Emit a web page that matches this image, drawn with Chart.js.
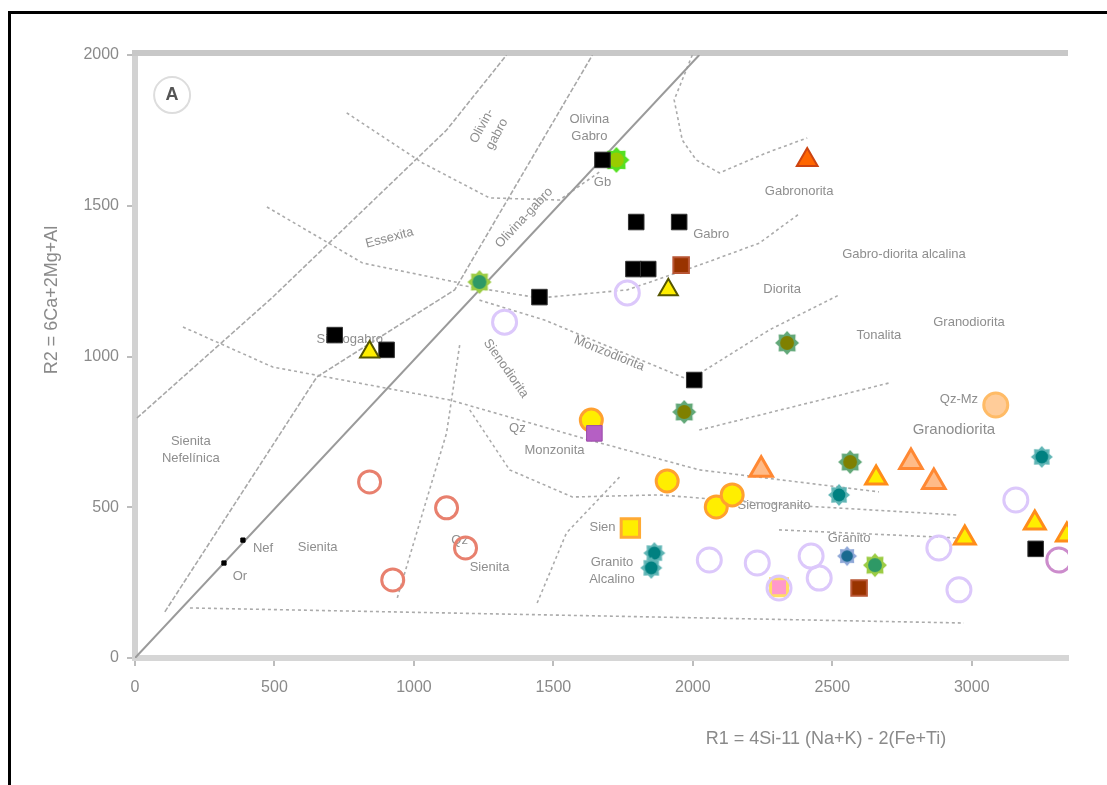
<!DOCTYPE html>
<html>
<head>
<meta charset="utf-8">
<script src="https://cdn.jsdelivr.net/npm/chart.js@4.4.0/dist/chart.umd.min.js"></script>
<style>
  html, body { margin: 0; padding: 0; background: #fff; }
  #frame { position: absolute; left: 8px; top: 11px; width: 1099px; height: 774px;
           border-top: 3px solid #000; border-left: 3px solid #000; }
  #wrap { position: absolute; left: 0; top: 0; width: 1107px; height: 785px; }
</style>
</head>
<body>
<div id="frame"></div>
<div id="wrap"><canvas id="chart" width="1107" height="785"></canvas></div>
<script>
// --- Datos (R1, R2) ---
const xTicks = [0, 500, 1000, 1500, 2000, 2500, 3000];
const yTicks = [0, 500, 1000, 1500, 2000];

const blackSqX = [1676, 1797, 1951, 1787, 1840, 1450, 716, 902, 2005, 3229];
const blackSqY = [1652, 1446, 1446, 1290, 1290, 1197, 1071, 1022, 922, 362];
const mineralX = [387, 319];
const mineralY = [391, 315];
const limeStarX = [1726];
const limeStarY = [1652];
const greenStarX = [1235, 2653];
const greenStarY = [1247, 308];
const oliveStarX = [2338, 1969, 2564];
const oliveStarY = [1045, 816, 650];
const tealStarX = [3251, 2524, 1862, 1851];
const tealStarY = [667, 541, 348, 299];
const blueStarX = [2553];
const blueStarY = [338];
const redTriX = [2410];
const redTriY = [1652];
const salmonTriX = [2245, 2782, 2864];
const salmonTriY = [624, 650, 584];
const yellowTriX = [2657, 2975, 3226, 3341];
const yellowTriY = [597, 398, 448, 408];
const oliveTriX = [1912, 841];
const oliveTriY = [1221, 1015];
const yellowDotX = [1636, 1908, 2084, 2141];
const yellowDotY = [789, 587, 501, 541];
const yellowSqX = [1776];
const yellowSqY = [431];
const purpleSqX = [1647];
const purpleSqY = [745];
const pinkSqX = [2309];
const pinkSqY = [235];
const peachDotX = [3086];
const peachDotY = [839];
const brownSqX = [1958, 2596];
const brownSqY = [1303, 232];
const redRingX = [841, 1117, 1185, 924];
const redRingY = [584, 498, 365, 259];
const lilacRingX = [1325, 1765, 2059, 2231, 2424, 2453, 2882, 2954, 3158, 2309];
const lilacRingY = [1114, 1211, 325, 315, 338, 265, 365, 226, 524, 232];
const mauveRingX = [3312];
const mauveRingY = [325];

// límites de campos
const mainDiagonal = [[0, 0], [2023, 2000]];
const diagonalB = [[107, 153], [652, 932], [1146, 1221], [1640, 2000]];
const diagonalC = [[7, 796], [494, 1197], [1117, 1751], [1332, 2000]];
const fieldLines = [
  [[759, 1808], [1031, 1642], [1271, 1526], [1522, 1519], [1665, 1612]],
  [[473, 1496], [816, 1310], [1164, 1244]],
  [[172, 1098], [494, 965], [1128, 856], [1629, 723]],
  [[1164, 1237], [1450, 1194], [1765, 1221], [2023, 1303], [2238, 1376], [2381, 1473]],
  [[1998, 2000], [1933, 1851], [1962, 1718], [2012, 1652], [2095, 1609], [2263, 1675], [2410, 1725]],
  [[1235, 1187], [1468, 1121], [1987, 922]],
  [[1987, 922], [2274, 1088], [2524, 1204]],
  [[2023, 756], [2703, 912]],
  [[1200, 823], [1343, 624], [1568, 534], [1880, 541], [2345, 507], [2954, 474]],
  [[1629, 723], [2023, 624], [2667, 551]],
  [[2309, 425], [2954, 398]],
  [[1164, 1038], [1117, 746], [1045, 524], [938, 192]],
  [[1737, 600], [1547, 415], [1439, 176]],
  [[197, 166], [2972, 116]]
];

const fieldLabels = [
  { text: 'Olivin-\ngabro', x: 1271, y: 1751, rot: -62 },
  { text: 'Olivina\nGabro', x: 1629, y: 1758, rot: 0 },
  { text: 'Gb', x: 1676, y: 1579, rot: 0 },
  { text: 'Gabronorita', x: 2381, y: 1546, rot: 0 },
  { text: 'Gabro', x: 2066, y: 1405, rot: 0 },
  { text: 'Essexita', x: 913, y: 1393, rot: -15 },
  { text: 'Gabro-diorita alcalina', x: 2757, y: 1337, rot: 0 },
  { text: 'Diorita', x: 2320, y: 1221, rot: 0 },
  { text: 'Tonalita', x: 2667, y: 1071, rot: 0 },
  { text: 'Granodiorita', x: 2990, y: 1114, rot: 0 },
  { text: 'Sienogabro', x: 770, y: 1055, rot: 0 },
  { text: 'Olivina-gabro', x: 1395, y: 1460, rot: -47 },
  { text: 'Monzodiorita', x: 1700, y: 1010, rot: 22 },
  { text: 'Sienodiorita', x: 1330, y: 960, rot: 55 },
  { text: 'Qz', x: 1371, y: 763, rot: 0 },
  { text: 'Monzonita', x: 1504, y: 690, rot: 0 },
  { text: 'Sienita\nNefelínica', x: 200, y: 690, rot: 0 },
  { text: 'Sienita', x: 655, y: 368, rot: 0 },
  { text: 'Qz', x: 1164, y: 391, rot: 0 },
  { text: 'Sienita', x: 1271, y: 302, rot: 0 },
  { text: 'Sien', x: 1676, y: 434, rot: 0 },
  { text: 'Granito\nAlcalino', x: 1710, y: 288, rot: 0 },
  { text: 'Sienogranito', x: 2291, y: 507, rot: 0 },
  { text: 'Granito', x: 2560, y: 395, rot: 0 },
  { text: 'Qz-Mz', x: 2954, y: 856, rot: 0 },
  { text: 'Granodiorita', x: 2936, y: 756, rot: 0, size: 15 },
  { text: 'Nef', x: 459, y: 365, rot: 0 },
  { text: 'Or', x: 376, y: 269, rot: 0 }
];

const pts = (xs, ys) => xs.map((v, i) => ({ x: v, y: ys[i] }));
const pairs = arr => arr.map(p => ({ x: p[0], y: p[1] }));

function starMarker(fill, edge, r) {
  const c = document.createElement('canvas');
  const s = Math.ceil(r * 2 + 4);
  c.width = s; c.height = s;
  const g = c.getContext('2d');
  g.translate(s / 2, s / 2);
  g.beginPath();
  for (let i = 0; i < 16; i++) {
    const a = i * Math.PI / 8 - Math.PI / 2;
    const rr = i % 2 === 0 ? r : r * 0.74;
    g.lineTo(Math.cos(a) * rr, Math.sin(a) * rr);
  }
  g.closePath();
  g.fillStyle = edge;
  g.fill();
  g.beginPath();
  g.arc(0, 0, r * 0.58, 0, Math.PI * 2);
  g.fillStyle = fill;
  g.fill();
  return c;
}

function marks(data, style, fill, edge, radius, width) {
  return {
    data: data,
    pointStyle: style,
    backgroundColor: fill,
    borderColor: edge,
    pointRadius: radius,
    pointBorderWidth: width,
    order: 1
  };
}

function boundary(data, color, width, dash) {
  return {
    data: data,
    showLine: true,
    pointRadius: 0,
    borderColor: color,
    borderWidth: width,
    borderDash: dash,
    fill: false,
    order: 10
  };
}

const datasets = [
  boundary(pairs(mainDiagonal), '#9a9a9a', 2, []),
  boundary(pairs(diagonalB), '#a8a8a8', 1.6, [5, 2]),
  boundary(pairs(diagonalC), '#a8a8a8', 1.6, [5, 2])
];
fieldLines.forEach(line => datasets.push(boundary(pairs(line), '#ababab', 1.6, [3, 3])));

datasets.push(
  marks(pts(redRingX, redRingY), 'circle', 'rgba(255,255,255,0)', '#e8806e', 11, 3),
  marks(pts(lilacRingX, lilacRingY), 'circle', 'rgba(255,255,255,0)', '#dcc8fb', 12, 3),
  marks(pts(mauveRingX, mauveRingY), 'circle', 'rgba(255,255,255,0)', '#cc8ccc', 12, 3),
  marks(pts(purpleSqX, purpleSqY), 'rect', '#b55fc4', '#9a4aa8', 11, 1),
  marks(pts(pinkSqX, pinkSqY), 'rect', '#ff99cc', '#ffdd66', 12, 3),
  marks(pts(yellowDotX, yellowDotY), 'circle', '#ffee00', '#ffa030', 11, 3),
  marks(pts(yellowSqX, yellowSqY), 'rect', '#ffee00', '#ffaa33', 13, 3),
  marks(pts(peachDotX, peachDotY), 'circle', '#ffcc99', '#ffbb66', 12, 3),
  marks(pts(salmonTriX, salmonTriY), 'triangle', '#ffbb88', '#ff8833', 13, 3),
  marks(pts(yellowTriX, yellowTriY), 'triangle', '#ffee00', '#ff8c1a', 12, 3),
  marks(pts(oliveTriX, oliveTriY), 'triangle', '#ffee00', '#555500', 11, 2),
  marks(pts(redTriX, redTriY), 'triangle', '#ff6600', '#cc4411', 12, 2),
  marks(pts(brownSqX, brownSqY), 'rect', '#993300', '#b85533', 11, 2),
  marks(pts(blackSqX, blackSqY), 'rect', '#000000', '#333333', 11, 1),
  marks(pts(mineralX, mineralY), 'rect', '#000000', '#000000', 3, 1),
  marks(pts(greenStarX, greenStarY), starMarker('#2e9966', '#9ccc44', 12), null, null, 12, 0),
  marks(pts(oliveStarX, oliveStarY), starMarker('#7f8000', '#62a878', 12), null, null, 12, 0),
  marks(pts(tealStarX, tealStarY), starMarker('#008080', '#5fb5b5', 11), null, null, 11, 0),
  marks(pts(blueStarX, blueStarY), starMarker('#1a6a8f', '#8fa8d8', 10), null, null, 10, 0),
  marks(pts(limeStarX, limeStarY), starMarker('#99cc00', '#55e022', 13), null, null, 13, 0)
);

const FONT = '"Liberation Sans", Arial, sans-serif';

const annotate = {
  id: 'annotate',
  beforeDatasetsDraw(chart) {
    const { ctx, chartArea, scales: { x, y } } = chart;
    ctx.save();
    // borde superior
    ctx.strokeStyle = '#c8c8c8';
    ctx.lineWidth = 6;
    ctx.beginPath();
    ctx.moveTo(chartArea.left - 3, chartArea.top - 2);
    ctx.lineTo(chartArea.right, chartArea.top - 2);
    ctx.stroke();

    // etiqueta "A"
    const ax = x.getPixelForValue(133), ay = y.getPixelForValue(1867);
    ctx.strokeStyle = '#dddddd';
    ctx.lineWidth = 2;
    ctx.beginPath();
    ctx.arc(ax, ay, 18, 0, Math.PI * 2);
    ctx.stroke();
    ctx.fillStyle = '#555';
    ctx.font = 'bold 18px ' + FONT;
    ctx.textAlign = 'center';
    ctx.textBaseline = 'middle';
    ctx.fillText('A', ax, ay);

    fieldLabels.forEach(l => {
      const size = l.size || 13;
      ctx.save();
      ctx.translate(x.getPixelForValue(l.x), y.getPixelForValue(l.y));
      ctx.rotate(l.rot * Math.PI / 180);
      ctx.font = size + 'px ' + FONT;
      ctx.fillStyle = '#8e8e8e';
      ctx.textAlign = 'center';
      ctx.textBaseline = 'middle';
      const lines = l.text.split('\n');
      lines.forEach((t, i) => ctx.fillText(t, 0, (i - (lines.length - 1) / 2) * (size + 4)));
      ctx.restore();
    });
    ctx.restore();
  },
  afterDraw(chart) {
    const { ctx } = chart;
    ctx.save();
    ctx.fillStyle = '#8a8a8a';
    ctx.font = '18px ' + FONT;
    ctx.textAlign = 'center';
    ctx.textBaseline = 'middle';
    ctx.fillText('R1 = 4Si-11 (Na+K) - 2(Fe+Ti)', 826, 739);
    ctx.translate(52, 300);
    ctx.rotate(-Math.PI / 2);
    ctx.fillText('R2 = 6Ca+2Mg+Al', 0, 0);
    ctx.restore();
  }
};

new Chart(document.getElementById('chart'), {
  type: 'scatter',
  data: { datasets: datasets },
  options: {
    responsive: false,
    animation: false,
    devicePixelRatio: 1,
    layout: { padding: { top: 55, right: 39, left: 0, bottom: 0 } },
    plugins: { legend: { display: false }, tooltip: { enabled: false } },
    scales: {
      x: {
        type: 'linear',
        min: 0,
        max: 3345,
        afterBuildTicks: scale => { scale.ticks = xTicks.map(v => ({ value: v })); },
        afterFit: scale => { scale.height = 127; },
        grid: { drawOnChartArea: false, drawTicks: true, tickLength: 8, color: '#bdbdbd', lineWidth: 2 },
        border: { display: true, color: '#d6d6d6', width: 6 },
        ticks: { color: '#8a8a8a', font: { size: 16, family: FONT }, padding: 12, maxRotation: 0,
                 callback: v => String(v) }
      },
      y: {
        type: 'linear',
        min: 0,
        max: 2000,
        afterBuildTicks: scale => { scale.ticks = yTicks.map(v => ({ value: v })); },
        afterFit: scale => { scale.width = 135; },
        grid: { drawOnChartArea: false, drawTicks: true, tickLength: 8, color: '#bdbdbd', lineWidth: 2 },
        border: { display: true, color: '#d2d2d2', width: 6 },
        ticks: { color: '#8a8a8a', font: { size: 16, family: FONT }, padding: 8,
                 callback: v => String(v) }
      }
    }
  },
  plugins: [annotate]
});
</script>
</body>
</html>
